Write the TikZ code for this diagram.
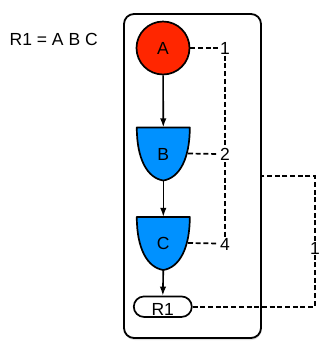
\documentclass[tikz,border=0pt]{standalone}
\usepackage{fontspec}
\setmainfont{Liberation Sans}
\usetikzlibrary{arrows.meta,shadows,calc,shapes.misc}
\definecolor{nodered}{RGB}{255,38,0}
\definecolor{nodeblue}{RGB}{0,145,255}
\tikzset{
  txt/.style={font=\fontsize{17.5}{19}\selectfont, inner sep=1.5pt},
  frame/.style={draw, line width=1.8pt, rounded corners=10pt, fill=white,
    minimum width=137pt, minimum height=324pt, inner sep=0pt,
    drop shadow={opacity=0.25, shadow xshift=0.5pt, shadow yshift=-2pt}},
  redcircle/.style={circle, draw, line width=1.7pt, fill=nodered, minimum size=53pt, inner sep=0pt, txt},
  shieldnode/.style={minimum width=53pt, minimum height=53pt, inner sep=0pt, txt},
  shieldfill/.style={draw, line width=1.7pt, fill=nodeblue, line join=round},
  resnode/.style={draw, line width=1.7pt, rounded rectangle, minimum width=61pt, minimum height=18.7pt, inner sep=0pt, txt, text height=17.5pt, text depth=0pt},
  flow/.style={line width=1.6pt, -{Latex[length=9pt,width=6.5pt]}},
  dashline/.style={line width=1.7pt, dash pattern=on 5pt off 2.7pt},
}
\newcommand\shieldshape[1]{%
  \filldraw[shieldfill] ($(#1)+(-26.5,-26.5)$) -- ($(#1)+(26.5,-26.5)$)
    .. controls ($(#1)+(26.5,5)$) and ($(#1)+(16,24)$) .. ($(#1)+(0,26.5)$)
    .. controls ($(#1)+(-16,24)$) and ($(#1)+(-26.5,5)$) .. ($(#1)+(-26.5,-26.5)$) -- cycle;}
\begin{document}
\begin{tikzpicture}[x=1pt,y=-1pt]
\useasboundingbox (0,0) rectangle (336,357);
\node[txt, anchor=west] (eq) at (8,39) {R1 = A B C};
\node[frame] (outer) at (192.5,176) {};
\node[redcircle] (A) at (163,48) {A};
\coordinate (Bc) at (163.3,154);
\shieldshape{Bc}
\node[shieldnode] (B) at (Bc) {B};
\coordinate (Cc) at (163.3,243.5);
\shieldshape{Cc}
\node[shieldnode] (C) at (Cc) {C};
\node[resnode] (R1) at (162.8,306.7) {R1};
\node[txt] (l1) at (225,48) {1};
\node[txt] (l2) at (225,154.5) {2};
\node[txt] (l4) at (225,244.5) {4};
\node[txt, fill=white, inner sep=1pt] (l5) at (315,248) {1};
\draw[flow] (A) -- (B.north);
\draw[flow] (B.south) -- (C.north);
\draw[flow] (C.south) -- (R1.north);
\draw[dashline] (A.east) -- (l1.west);
\draw[dashline] ($(B.east)+(-2,-0.5)$) -- (l2.west |- B.east);
\draw[dashline] ($(C.east)+(-2,-0.5)$) -- (l4.west |- C.east);
\draw[dashline] (l1.south) -- (l2.north);
\draw[dashline] (l2.south) -- (l4.north);
\draw[dashline] (R1.east) -| (l5.south);
\draw[dashline] (l5.north) |- (outer.east);
\end{tikzpicture}
\end{document}
